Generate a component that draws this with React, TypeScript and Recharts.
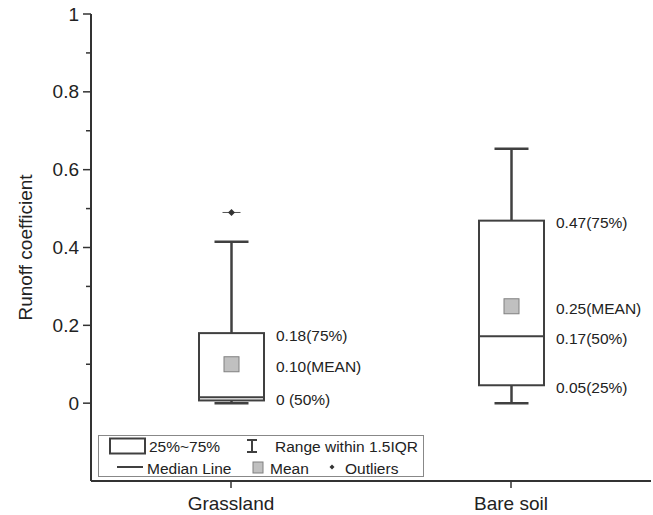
import { ComposedChart, Bar, XAxis, YAxis } from "recharts";

const categories = ["Grassland", "Bare soil"];
const whiskerLow = [0, 0];
const q1 = [0.007, 0.046];
const median = [0.015, 0.172];
const q3 = [0.18, 0.469];
const whiskerHigh = [0.415, 0.654];
const means = [0.1, 0.249];
const outliers = [[0.49], []];

const grassLabels = [
  { value: 0.18, text: "0.18(75%)" },
  { value: 0.1, text: "0.10(MEAN)" },
  { value: 0.015, text: "0 (50%)" },
];
const bareLabels = [
  { value: 0.469, text: "0.47(75%)" },
  { value: 0.249, text: "0.25(MEAN)" },
  { value: 0.172, text: "0.17(50%)" },
  { value: 0.046, text: "0.05(25%)" },
];
const boxLabels = [grassLabels, bareLabels];

const yTicks = [0, 0.1, 0.2, 0.3, 0.4, 0.5, 0.6, 0.7, 0.8, 0.9, 1];

const data = categories.map((name, i) => ({
  name,
  idx: i,
  range: [whiskerLow[i], whiskerHigh[i]],
}));

const FONT = "'Liberation Sans', Arial, sans-serif";
const INK = "#404040";

const BoxShape = (props: any) => {
  const { x, y, width, height, payload } = props;
  const i = payload.idx;
  const lo = whiskerLow[i];
  const hi = whiskerHigh[i];
  const py = (v: number) => y + (height * (hi - v)) / (hi - lo);
  const cx = x + width / 2;
  const cap = 17;
  const m = 7.5;
  return (
    <g>
      <line x1={cx} x2={cx} y1={py(hi)} y2={py(q3[i])} stroke={INK} strokeWidth={2.5} />
      <line x1={cx} x2={cx} y1={py(q1[i])} y2={py(lo)} stroke={INK} strokeWidth={2.5} />
      <line x1={cx - cap} x2={cx + cap} y1={py(hi)} y2={py(hi)} stroke={INK} strokeWidth={2.5} />
      <line x1={cx - cap} x2={cx + cap} y1={py(lo)} y2={py(lo)} stroke={INK} strokeWidth={2.5} />
      <rect
        x={x}
        y={py(q3[i])}
        width={width}
        height={py(q1[i]) - py(q3[i])}
        fill="#fff"
        stroke={INK}
        strokeWidth={2}
      />
      <line x1={x} x2={x + width} y1={py(median[i])} y2={py(median[i])} stroke={INK} strokeWidth={2} />
      <rect
        x={cx - m}
        y={py(means[i]) - m}
        width={m * 2}
        height={m * 2}
        fill="#c0c0c0"
        stroke="#808080"
        strokeWidth={1}
      />
      {outliers[i].map((o, k) => (
        <g key={k}>
          <line x1={cx - 9} x2={cx + 9} y1={py(o)} y2={py(o)} stroke="#555" strokeWidth={1} />
          <path
            d={`M${cx},${py(o) - 3.5}L${cx + 3.5},${py(o)}L${cx},${py(o) + 3.5}L${cx - 3.5},${py(o)}Z`}
            fill="#333"
          />
        </g>
      ))}
      {boxLabels[i].map((l, k) => (
        <text
          key={k}
          x={x + width + 12}
          y={py(l.value) + 2}
          dominantBaseline="central"
          fontSize={15.5}
          fontFamily={FONT}
          fill="#222"
        >
          {l.text}
        </text>
      ))}
    </g>
  );
};

const YTick = (props: any) => {
  const { x, y, payload } = props;
  const v = payload.value;
  const major = Math.round(v * 10) % 2 === 0;
  return (
    <g>
      <line x1={x - (major ? 8 : 5)} x2={x} y1={y} y2={y} stroke="#333" strokeWidth={1.5} />
      {major && (
        <text
          x={x - 12}
          y={y}
          textAnchor="end"
          dominantBaseline="central"
          fontSize={19}
          fontFamily={FONT}
          fill="#222"
        >
          {String(v)}
        </text>
      )}
    </g>
  );
};

const LegendBox = () => (
  <svg
    width={653}
    height={515}
    style={{ position: "absolute", left: 0, top: 0, pointerEvents: "none" }}
  >
    <rect x={98.5} y={435.5} width={325} height={41} fill="#fff" stroke="#888" strokeWidth={1} />
    <rect x={110} y={438.5} width={35} height={15} fill="#fff" stroke={INK} strokeWidth={2} />
    <text x={149} y={446} dominantBaseline="central" fontSize={15.5} fontFamily={FONT} fill="#222">
      25%~75%
    </text>
    <line x1={252} x2={252} y1={440} y2={452} stroke={INK} strokeWidth={2} />
    <line x1={247} x2={257} y1={440} y2={440} stroke={INK} strokeWidth={2} />
    <line x1={247} x2={257} y1={452} y2={452} stroke={INK} strokeWidth={2} />
    <text x={275} y={446} dominantBaseline="central" fontSize={15.5} fontFamily={FONT} fill="#222">
      Range within 1.5IQR
    </text>
    <line x1={117} x2={143} y1={467} y2={467} stroke={INK} strokeWidth={2} />
    <text x={147} y={468} dominantBaseline="central" fontSize={15.5} fontFamily={FONT} fill="#222">
      Median Line
    </text>
    <rect x={253} y={462} width={10} height={11} fill="#c0c0c0" stroke="#808080" strokeWidth={1} />
    <text x={270} y={468} dominantBaseline="central" fontSize={15.5} fontFamily={FONT} fill="#222">
      Mean
    </text>
    <path d="M332,464.5L334.5,467L332,469.5L329.5,467Z" fill="#333" />
    <text x={345} y={468} dominantBaseline="central" fontSize={15.5} fontFamily={FONT} fill="#222">
      Outliers
    </text>
  </svg>
);

export default function App() {
  return (
    <div style={{ position: "absolute", left: 0, top: 0, width: 653, height: 515, background: "#fff" }}>
      <ComposedChart
        width={653}
        height={515}
        data={data}
        margin={{ top: 14, right: 2, bottom: 0, left: 0 }}
      >
        <XAxis
          dataKey="name"
          type="category"
          height={34}
          axisLine={{ stroke: "#333", strokeWidth: 2 }}
          tickLine={{ stroke: "#333", strokeWidth: 1.5 }}
          tickSize={7}
          tickMargin={9}
          tick={{ fontSize: 19, fontFamily: FONT, fill: "#222" }}
        />
        <YAxis
          type="number"
          domain={[-0.2, 1]}
          ticks={yTicks}
          interval={0}
          width={91}
          axisLine={{ stroke: "#333", strokeWidth: 2 }}
          tickLine={false}
          tickSize={0}
          tickMargin={0}
          tick={<YTick />}
          label={{
            value: "Runoff coefficient",
            angle: -90,
            position: "insideLeft",
            offset: 25,
            style: { textAnchor: "middle", fontSize: 19, fontFamily: FONT, fill: "#222" },
          }}
        />
        <Bar dataKey="range" barSize={65} shape={<BoxShape />} isAnimationActive={false} />
      </ComposedChart>
      <LegendBox />
    </div>
  );
}
